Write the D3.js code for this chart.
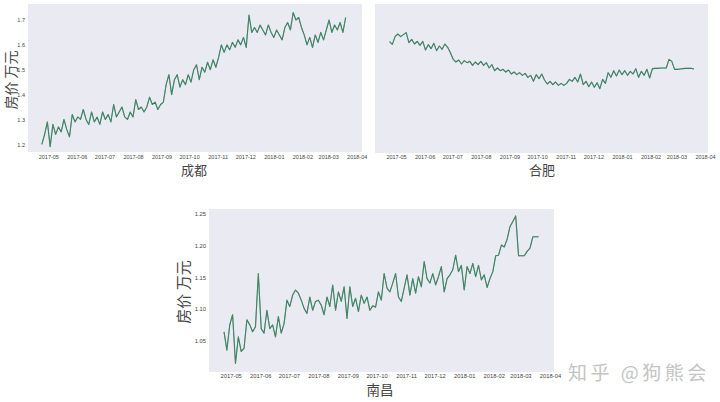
<!DOCTYPE html>
<html><head><meta charset="utf-8">
<script src="https://cdn.jsdelivr.net/npm/d3@7"></script>
<style>body{margin:0;background:#fff}</style></head>
<body><svg id="c" width="720" height="402"></svg>
<script>
const dates = ("2017-04-24 2017-04-27 2017-04-30 2017-05-03 2017-05-06 2017-05-09 2017-05-12 2017-05-15 2017-05-18 2017-05-21 2017-05-24 2017-05-27 2017-05-30 " +
"2017-06-02 2017-06-05 2017-06-08 2017-06-11 2017-06-14 2017-06-17 2017-06-20 2017-06-23 2017-06-26 2017-06-29 " +
"2017-07-02 2017-07-05 2017-07-08 2017-07-11 2017-07-14 2017-07-17 2017-07-20 2017-07-23 2017-07-26 2017-07-29 " +
"2017-08-01 2017-08-04 2017-08-07 2017-08-10 2017-08-13 2017-08-16 2017-08-19 2017-08-22 2017-08-25 2017-08-28 2017-08-31 " +
"2017-09-03 2017-09-06 2017-09-09 2017-09-12 2017-09-15 2017-09-18 2017-09-21 2017-09-24 2017-09-27 2017-09-30 " +
"2017-10-03 2017-10-06 2017-10-09 2017-10-12 2017-10-15 2017-10-18 2017-10-21 2017-10-24 2017-10-27 2017-10-30 " +
"2017-11-02 2017-11-05 2017-11-08 2017-11-11 2017-11-14 2017-11-17 2017-11-20 2017-11-23 2017-11-26 2017-11-29 " +
"2017-12-02 2017-12-05 2017-12-08 2017-12-11 2017-12-14 2017-12-17 2017-12-20 2017-12-23 2017-12-26 2017-12-29 " +
"2018-01-01 2018-01-04 2018-01-07 2018-01-10 2018-01-13 2018-01-16 2018-01-19 2018-01-22 2018-01-25 2018-01-28 2018-01-31 " +
"2018-02-03 2018-02-06 2018-02-09 2018-02-12 2018-02-15 2018-02-18 2018-02-21 2018-02-24 2018-02-27 " +
"2018-03-02 2018-03-05 2018-03-08 2018-03-11 2018-03-14 2018-03-17 2018-03-20").split(" ");

const chengdu = [1.20,1.24,1.29,1.19,1.28,1.24,1.27,1.25,1.30,1.26,1.23,1.32,1.29,
1.31,1.30,1.34,1.30,1.28,1.33,1.29,1.31,1.28,1.33,
1.30,1.32,1.29,1.36,1.31,1.33,1.35,1.31,1.30,1.33,
1.31,1.38,1.34,1.35,1.33,1.35,1.39,1.36,1.37,1.34,1.36,
1.37,1.44,1.48,1.40,1.46,1.48,1.43,1.46,1.44,1.48,
1.45,1.50,1.52,1.46,1.51,1.49,1.53,1.50,1.54,1.51,
1.55,1.60,1.57,1.60,1.58,1.61,1.59,1.62,1.60,1.63,
1.59,1.72,1.65,1.67,1.65,1.68,1.66,1.64,1.68,1.65,
1.63,1.66,1.64,1.62,1.67,1.69,1.66,1.73,1.70,1.71,1.67,
1.64,1.60,1.63,1.59,1.64,1.61,1.65,1.62,1.66,
1.70,1.65,1.68,1.66,1.69,1.65,1.71];

const hefei = [1.750,1.734,1.780,1.796,1.780,1.792,1.804,1.744,1.764,1.736,1.752,1.728,1.752,
1.700,1.732,1.708,1.740,1.696,1.724,1.704,1.736,1.716,1.684,
1.644,1.628,1.640,1.616,1.636,1.624,1.632,1.608,1.628,1.612,
1.632,1.608,1.624,1.592,1.612,1.576,1.592,1.576,1.584,1.568,1.580,
1.556,1.568,1.552,1.564,1.548,1.560,1.536,1.548,1.512,1.552,
1.528,1.556,1.520,1.496,1.512,1.492,1.508,1.488,1.500,1.488,
1.500,1.524,1.512,1.536,1.508,1.556,1.492,1.512,1.480,1.508,
1.476,1.504,1.468,1.524,1.500,1.564,1.536,1.576,1.544,1.580,
1.552,1.576,1.548,1.572,1.556,1.588,1.536,1.572,1.548,1.584,1.532,
1.588,1.590,1.590,1.592,1.592,1.592,1.644,1.632,1.584,
1.584,1.586,1.588,1.590,1.590,1.590,1.586];

const nanchang = [1.064,1.035,1.075,1.091,1.014,1.056,1.033,1.038,1.083,1.075,1.064,1.072,1.156,
1.069,1.062,1.098,1.069,1.075,1.056,1.088,1.062,1.077,1.114,
1.104,1.122,1.130,1.125,1.114,1.101,1.093,1.119,1.098,1.112,
1.114,1.106,1.091,1.119,1.104,1.138,1.098,1.127,1.112,1.135,1.085,
1.135,1.104,1.117,1.096,1.122,1.109,1.119,1.098,1.105,1.103,
1.127,1.114,1.156,1.133,1.127,1.141,1.156,1.119,1.112,1.133,
1.154,1.122,1.148,1.125,1.151,1.135,1.175,1.148,1.141,1.156,
1.138,1.151,1.167,1.127,1.148,1.154,1.162,1.185,1.159,1.169,
1.130,1.167,1.156,1.172,1.151,1.169,1.146,1.154,1.134,1.148,1.159,
1.184,1.185,1.201,1.198,1.210,1.230,1.238,1.247,1.184,
1.184,1.184,1.191,1.196,1.214,1.214,1.214];

const monthTicks = ["2017-05","2017-06","2017-07","2017-08","2017-09","2017-10","2017-11","2017-12","2018-01","2018-02","2018-03","2018-04"];
const cdTicks = [1.2,1.3,1.4,1.5,1.6,1.7];
const ncTicks = [1.05,1.10,1.15,1.20,1.25];
const cityNames = ["成都","合肥","南昌"];
const yTitle = "房价  万元";

const parseD = d3.timeParse("%Y-%m-%d");
const parseM = d3.timeParse("%Y-%m");
const dateObjs = dates.map(parseD);
const monthObjs = monthTicks.map(parseM);

const panels = [
  {name:cityNames[0], values:chengdu, box:[28,362,4,152], xr:[48.3,356.7], yd:[1.2,1.7], yr:[144.3,20],
   yticks:cdTicks, fmt:".1f", tf:5.5, xpad:3, title:[194,175], tfs:13, ylab:[16,80], ylfs:14},
  {name:cityNames[1], values:hefei, box:[375,708,4,153], xr:[396,705], yd:[1.082,1.976], yr:[153,4],
   yticks:null, fmt:null, tf:5.5, xpad:2, title:[542,175], tfs:13, ylab:null},
  {name:cityNames[2], values:nanchang, box:[209,554,209,372], xr:[230.7,550], yd:[1.05,1.25], yr:[340.7,214],
   yticks:ncTicks, fmt:".2f", tf:5.8, xpad:1.5, title:[380,395], tfs:13.5, ylab:[189,292], ylfs:15}
];

const svg = d3.select("#c");

panels.forEach(p => {
  const [x0,x1,y0,y1] = p.box;
  const g = svg.append("g");
  g.append("rect").attr("x",x0).attr("y",y0).attr("width",x1-x0).attr("height",y1-y0).attr("fill","#eaeaf2");
  const x = d3.scaleTime().domain([monthObjs[0], monthObjs[monthObjs.length-1]]).range(p.xr);
  const y = d3.scaleLinear().domain(p.yd).range(p.yr);
  const line = d3.line().x((d,i)=>x(dateObjs[i])).y(d=>y(d));
  g.append("path").datum(p.values).attr("d",line).attr("fill","none")
    .attr("stroke","#2f6a50").attr("stroke-width",1.1).attr("stroke-linejoin","round");
  g.append("path").datum(p.values).attr("d",line).attr("fill","none")
    .attr("stroke","#52a77d").attr("stroke-width",0.45).attr("stroke-linejoin","round");

  const ax = g.append("g").attr("transform",`translate(0,${y1})`)
    .call(d3.axisBottom(x).tickValues(monthObjs).tickFormat(d3.timeFormat("%Y-%m")).tickSize(0).tickPadding(p.xpad));
  ax.select(".domain").remove();
  ax.selectAll("text").attr("font-family","Liberation Sans, Arial, sans-serif").attr("font-size",p.tf).attr("fill","#444");

  if (p.yticks) {
    const ay = g.append("g").attr("transform",`translate(${x0},0)`)
      .call(d3.axisLeft(y).tickValues(p.yticks).tickFormat(d3.format(p.fmt)).tickSize(0).tickPadding(3));
    ay.select(".domain").remove();
    ay.selectAll("text").attr("font-family","Liberation Sans, Arial, sans-serif").attr("font-size",p.tf).attr("fill","#444");
  }
  g.append("text").attr("x",p.title[0]).attr("y",p.title[1]).attr("text-anchor","middle")
    .attr("font-family","Noto Sans CJK SC").attr("font-size",p.tfs).attr("fill","#444").text(p.name);
  if (p.ylab) {
    g.append("text").attr("transform",`translate(${p.ylab[0]},${p.ylab[1]}) rotate(-90)`).attr("text-anchor","middle")
      .attr("font-family","Noto Sans CJK SC").attr("font-size",p.ylfs).attr("fill","#444").text(yTitle);
  }
});

svg.append("text").attr("x",568).attr("y",380).attr("font-family","Noto Sans CJK SC").attr("font-size",19)
  .attr("letter-spacing",3.5).attr("fill","#c4c4c4").text("知乎 @狗熊会");
</script></body></html>
